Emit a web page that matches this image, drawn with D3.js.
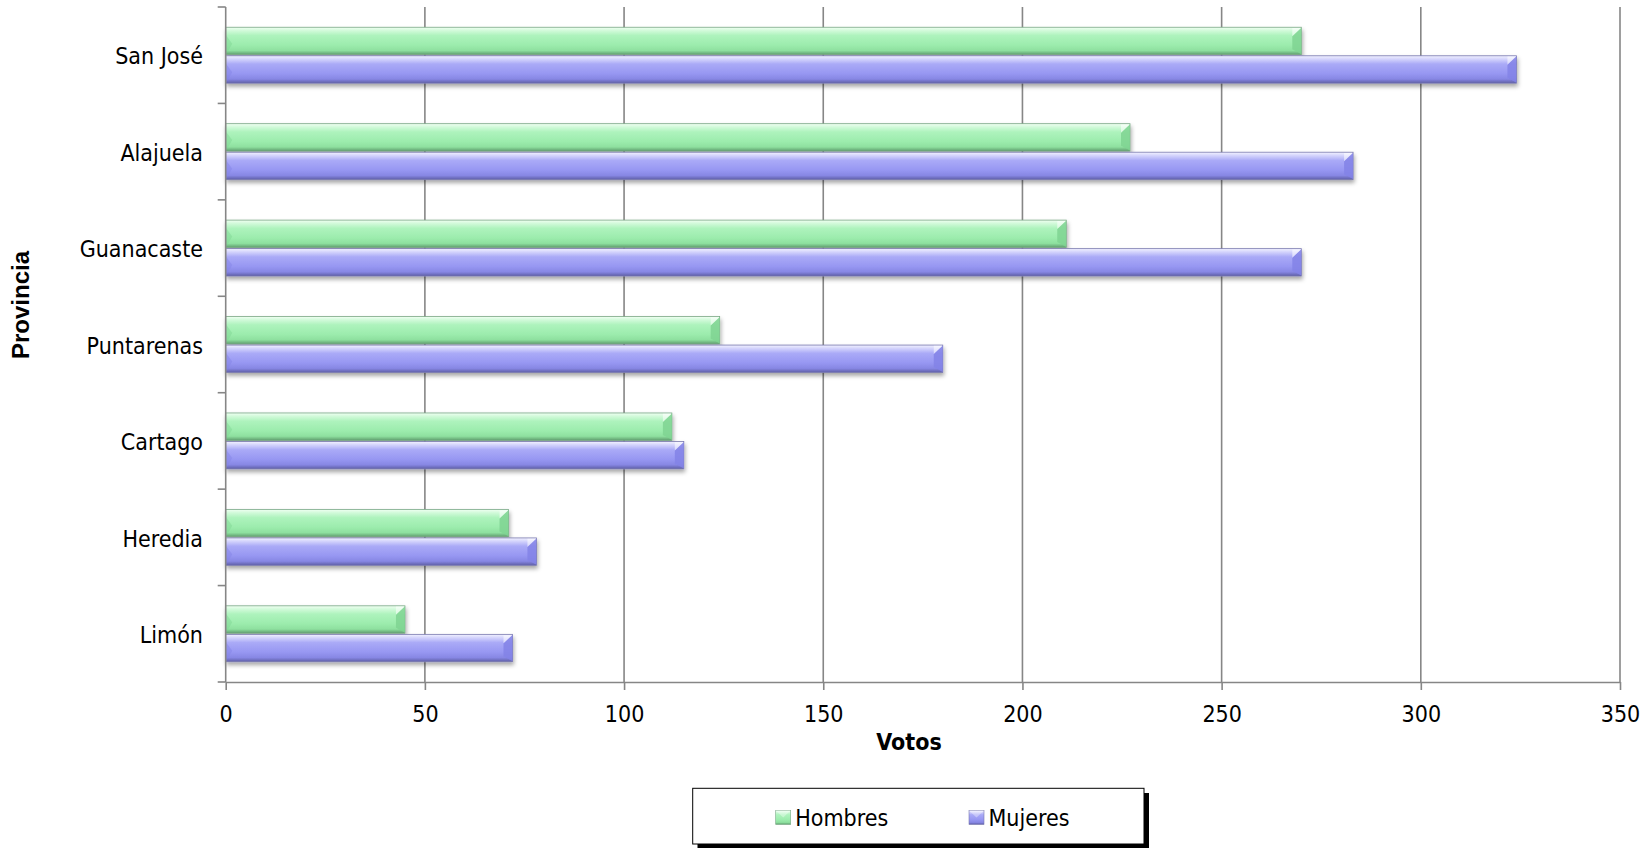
<!DOCTYPE html>
<html><head><meta charset="utf-8">
<script src="https://cdn.jsdelivr.net/npm/d3@7"></script>
<style>body{margin:0;background:#fff} svg{display:block}</style>
</head><body><svg id="c" width="1652" height="848"></svg>
<script>
const categories = ["San José","Alajuela","Guanacaste","Puntarenas","Cartago","Heredia","Limón"];
const seriesNames = ["Hombres","Mujeres"];
const hombres = [270,227,211,124,112,71,45];
const mujeres = [324,283,270,180,115,78,72];
const xTicks = [0,50,100,150,200,250,300,350];
const xTitle = "Votos";
const yTitle = "Provincia";

const FONT = "'DejaVu Sans Condensed','DejaVu Sans',sans-serif";
const svg = d3.select("#c");
const L = 225.7, R = 1620, T = 7, B = 682;

const x = d3.scaleLinear().domain([0, 350]).range([L, R]);
const y = d3.scaleBand().domain(categories).range([T, B]).paddingInner(0.42).paddingOuter(0.21);
const inner = d3.scaleBand().domain(seriesNames).range([0, y.bandwidth()]).paddingInner(0.04);

const defs = svg.append("defs");
function grad(id, stops){
  const g = defs.append("linearGradient").attr("id", id).attr("x1",0).attr("y1",0).attr("x2",0).attr("y2",1);
  stops.forEach(s => g.append("stop").attr("offset", s[0]).attr("stop-color", s[1]));
}
grad("gH", [[0,"#f0fff2"],[0.12,"#d2fada"],[0.3,"#aef3bd"],[0.65,"#9cecad"],[0.85,"#8ee09f"],[1,"#5f9e6e"]]);
grad("gM", [[0,"#f2f2ff"],[0.12,"#d4d4fc"],[0.3,"#aaaaf7"],[0.65,"#9797f2"],[0.85,"#8787e4"],[1,"#5e5ea6"]]);
const f = defs.append("filter").attr("id","sh").attr("x","-5%").attr("y","-30%").attr("width","110%").attr("height","180%");
f.append("feDropShadow").attr("dx",1).attr("dy",3).attr("stdDeviation",2).attr("flood-color","#000").attr("flood-opacity",0.35);

const seriesData = {Hombres: hombres, Mujeres: mujeres};
const fills = {Hombres: "url(#gH)", Mujeres: "url(#gM)"};
const capCol = {Hombres: "#7fd492", Mujeres: "#8282e6"};
const edgeCol = {Hombres: "#7aa886", Mujeres: "#7a7ab0"};

// gridlines
svg.append("g").selectAll("line").data(xTicks.filter(d => d > 0)).join("line")
  .attr("x1", d => x(d)).attr("x2", d => x(d)).attr("y1", T).attr("y2", B)
  .attr("stroke", "#868686").attr("stroke-width", 1.6);

// bars
const rows = categories.map((c, i) => ({cat: c, vals: seriesNames.map(s => ({s, v: seriesData[s][i]}))}));
const gRow = svg.append("g").selectAll("g").data(rows).join("g")
  .attr("transform", d => `translate(0,${y(d.cat)})`);
const gBar = gRow.selectAll("g").data(d => d.vals).join("g")
  .attr("transform", d => `translate(0,${inner(d.s)})`)
  .attr("filter", "url(#sh)");
const bh = inner.bandwidth();
gBar.append("rect")
  .attr("x", x(0)).attr("y", 0).attr("width", d => x(d.v) - x(0)).attr("height", bh)
  .attr("fill", d => fills[d.s]).attr("stroke", d => edgeCol[d.s]).attr("stroke-width", 0.8);
// right bevel
const bv = 9;
gBar.append("path")
  .attr("d", d => { const x1 = x(d.v); return `M${x1},0.5 L${x1-bv},${bv} L${x1-bv},${bh-bv*0.6} L${x1},${bh-0.5} Z`; })
  .attr("fill", d => capCol[d.s]).attr("opacity", 0.85);
gBar.append("path")
  .attr("d", d => { const x1 = x(d.v); return `M${x1-bv},0.8 L${x1-0.5},0.8 L${x1-bv},${bv} Z`; })
  .attr("fill", "#ffffff").attr("opacity", 0.55);
// left bevel (subtle)
gBar.append("path")
  .attr("d", d => { const x0 = x(0) + 0.5; return `M${x0},${bh*0.3} L${x0+6},${bh*0.6} L${x0},${bh-0.5} Z`; })
  .attr("fill", d => capCol[d.s]).attr("opacity", 0.45);

// y axis
svg.append("line").attr("x1", L).attr("x2", L).attr("y1", T).attr("y2", B)
  .attr("stroke", "#868686").attr("stroke-width", 1.6);
svg.append("g").selectAll("line").data(d3.range(categories.length + 1)).join("line")
  .attr("x1", L - 8).attr("x2", L).attr("y1", i => T + i * y.step()).attr("y2", i => T + i * y.step())
  .attr("stroke", "#868686").attr("stroke-width", 1.6);
svg.append("g").selectAll("text").data(categories).join("text")
  .attr("x", 203).attr("y", d => y(d) + y.bandwidth() / 2).attr("dy", "0.4em")
  .attr("text-anchor", "end").attr("font-family", FONT).attr("font-size", 23).attr("fill", "#000")
  .text(d => d);

// x axis
const xa = svg.append("g").attr("transform", `translate(0,${B})`)
  .call(d3.axisBottom(x).tickValues(xTicks).tickSize(8).tickSizeOuter(0));
xa.select(".domain").attr("stroke", "#868686").attr("stroke-width", 1.6);
xa.selectAll(".tick line").attr("stroke", "#868686").attr("stroke-width", 1.6);
xa.selectAll(".tick text").attr("y", 40).attr("dy", 0)
  .attr("font-family", FONT).attr("font-size", 23).attr("fill", "#000");

// titles
svg.append("text").attr("x", 909).attr("y", 750).attr("text-anchor", "middle")
  .attr("font-family", FONT).attr("font-weight", "bold").attr("font-size", 23).text(xTitle);
svg.append("text").attr("transform", "translate(29,305) rotate(-90)").attr("text-anchor", "middle")
  .attr("font-family", "'Liberation Sans',Arial,sans-serif").attr("font-weight", "bold").attr("font-size", 24).text(yTitle);

// legend
const lg = svg.append("g");
lg.append("rect").attr("x", 697.5).attr("y", 793).attr("width", 451.5).attr("height", 55.5).attr("fill", "#000");
lg.append("rect").attr("x", 692.7).attr("y", 788.3).attr("width", 451.3).attr("height", 55.7)
  .attr("fill", "#fff").attr("stroke", "#000").attr("stroke-width", 1);
const legX = {Hombres: 775.7, Mujeres: 969};
const li = lg.selectAll("g.it").data(seriesNames).join("g").attr("class", "it")
  .attr("transform", d => `translate(${legX[d]},810.5)`);
li.append("rect").attr("width", 15).attr("height", 14).attr("fill", d => fills[d])
  .attr("stroke", d => edgeCol[d]).attr("stroke-width", 0.6);
li.append("path").attr("d", "M0,0 L7.5,7 L15,0 Z").attr("fill", "#fff").attr("opacity", 0.35);
li.append("text").attr("x", 19.5).attr("y", 15.3).attr("font-family", FONT).attr("font-size", 23).text(d => d);
</script></body></html>
